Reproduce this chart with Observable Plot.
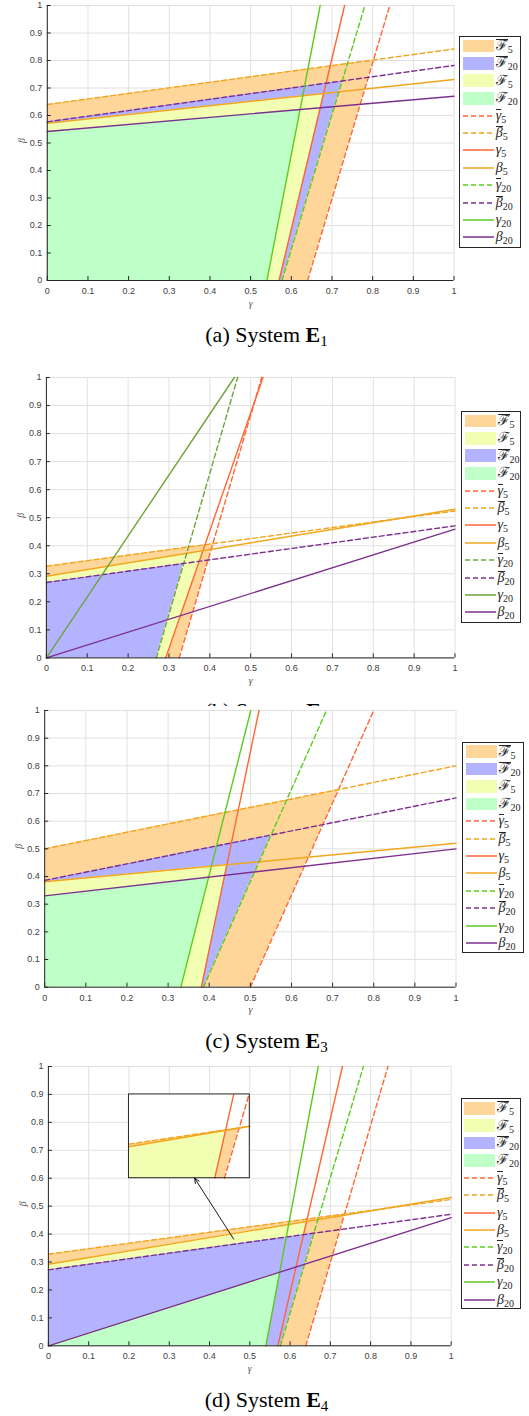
<!DOCTYPE html>
<html>
<head>
<meta charset="utf-8">
<script src="https://cdn.jsdelivr.net/npm/d3@7"></script>
<script src="https://cdn.jsdelivr.net/npm/@observablehq/plot@0.6"></script>
<style>
html,body{margin:0;padding:0;background:#fff;}
#root{position:relative;width:529px;height:1416px;overflow:hidden;background:#fff;}
.panel{position:absolute;left:0;}
.cap{position:absolute;left:0;overflow:visible;}
.legend{position:absolute;border:1px solid #262626;background:#fff;box-sizing:border-box;}
.row{position:absolute;left:2.4px;height:16px;display:flex;align-items:center;white-space:nowrap;}
.sw{width:31px;height:12.7px;flex:none;}
.swl{width:31px;height:4px;flex:none;display:block;}
.lab{margin-left:2px;font-family:"Liberation Serif","DejaVu Serif",serif;font-size:14px;color:#262626;line-height:1;}
.lab .s{display:inline-block;line-height:12px;border-top:1px solid transparent;}
.lab .m{font-style:italic;}
.lab .ov{border-top-color:#262626;}
.lab sub{font-style:normal;font-size:10px;vertical-align:-3px;line-height:0;}
</style>
</head>
<body>
<div id="root"></div>
<script>
// ---------- data ----------
const tickValues = [0, 0.1, 0.2, 0.3, 0.4, 0.5, 0.6, 0.7, 0.8, 0.9, 1];
const captionLetters = ["a", "b", "c", "d"];
const systemIndex = ["1", "2", "3", "4"];

// gamma-lines: [gamma at beta=0, gamma at beta=1]; beta-lines: [beta at gamma=0, beta at gamma=1]
const E1_gammaBar5  = [0.640, 0.842];
const E1_betaBar5   = [0.640, 0.842];
const E1_gamma5     = [0.570, 0.731];
const E1_beta5      = [0.572, 0.731];
const E1_gammaBar20 = [0.577, 0.781];
const E1_betaBar20  = [0.577, 0.782];
const E1_gamma20    = [0.540, 0.671];
const E1_beta20     = [0.542, 0.670];

const E2_gammaBar5  = [0.325, 0.527];
const E2_betaBar5   = [0.327, 0.524];
const E2_gamma5     = [0.292, 0.530];
const E2_beta5      = [0.291, 0.530];
const E2_gammaBar20 = [0.269, 0.468];
const E2_betaBar20  = [0.269, 0.471];
const E2_gamma20    = [0.000, 0.460];
const E2_beta20     = [0.000, 0.459];

const E3_gammaBar5  = [0.500, 0.800];
const E3_betaBar5   = [0.500, 0.800];
const E3_gamma5     = [0.381, 0.521];
const E3_beta5      = [0.381, 0.520];
const E3_gammaBar20 = [0.386, 0.685];
const E3_betaBar20  = [0.386, 0.684];
const E3_gamma20    = [0.331, 0.501];
const E3_beta20     = [0.330, 0.500];

const E4_gammaBar5  = [0.639, 0.843];
const E4_betaBar5   = [0.328, 0.524];
const E4_gamma5     = [0.5695, 0.730];
const E4_beta5      = [0.292, 0.531];
const E4_gammaBar20 = [0.576, 0.782];
const E4_betaBar20  = [0.272, 0.471];
const E4_gamma20    = [0.540, 0.670];
const E4_beta20     = [0.000, 0.459];

// inset of system E4 (in main gamma/beta coordinates)
const E4_insetGamma = [0.2, 0.5];
const E4_insetBeta  = [0.6, 0.9];
const E4_inset_betaBar5  = [[0.2, 0.722], [0.5, 0.786]];
const E4_inset_beta5     = [[0.2, 0.7125], [0.5, 0.786]];
const E4_inset_gamma5    = [[0.413, 0.6], [0.460, 0.9]];
const E4_inset_gammaBar5 = [[0.437, 0.6], [0.498, 0.9]];
const E4_arrowFrom = [0.460, 0.382];
const E4_arrowTo   = [0.363, 0.600];

// ---------- styles ----------
const C = {
  red: "#FF6633", orange: "#F2A51E", purple: "#7E2F8E",
  green: "#5CCB1E", greenB: "#6AA63A",
  Fbar5: "#FFD699", F5: "#F2FFB3", Fbar20: "#B3B3FF", F20: "#BFFFC8"
};

const systems = [
  {d: {gammaBar5: E1_gammaBar5, betaBar5: E1_betaBar5, gamma5: E1_gamma5, beta5: E1_beta5, gammaBar20: E1_gammaBar20, betaBar20: E1_betaBar20, gamma20: E1_gamma20, beta20: E1_beta20},
   order: ["Fbar5", "Fbar20", "F5", "F20"], green: C.green,
   frame: {L: 46.8, R: 453.5, T: 5, B: 280}, legend: {x: 459.3, y: 36, w: 61.4, h: 212.3}, capY: 341.7},
  {d: {gammaBar5: E2_gammaBar5, betaBar5: E2_betaBar5, gamma5: E2_gamma5, beta5: E2_beta5, gammaBar20: E2_gammaBar20, betaBar20: E2_betaBar20, gamma20: E2_gamma20, beta20: E2_beta20},
   order: ["Fbar5", "F5", "Fbar20", "F20"], green: C.greenB,
   frame: {L: 45.9, R: 454.5, T: 377.3, B: 657.7}, legend: {x: 461.2, y: 411, w: 60.1, h: 211.7}, capY: 718},
  {d: {gammaBar5: E3_gammaBar5, betaBar5: E3_betaBar5, gamma5: E3_gamma5, beta5: E3_beta5, gammaBar20: E3_gammaBar20, betaBar20: E3_betaBar20, gamma20: E3_gamma20, beta20: E3_beta20},
   order: ["Fbar5", "Fbar20", "F5", "F20"], green: C.green,
   frame: {L: 44.2, R: 455.5, T: 710, B: 986.7}, legend: {x: 462.2, y: 741.7, w: 61.4, h: 211.6}, capY: 1048, topPad: 4},
  {d: {gammaBar5: E4_gammaBar5, betaBar5: E4_betaBar5, gamma5: E4_gamma5, beta5: E4_beta5, gammaBar20: E4_gammaBar20, betaBar20: E4_betaBar20, gamma20: E4_gamma20, beta20: E4_beta20},
   order: ["Fbar5", "F5", "Fbar20", "F20"], green: C.green, inset: true,
   frame: {L: 47.9, R: 450.7, T: 1065.7, B: 1345}, legend: {x: 460.7, y: 1098.3, w: 60, h: 211}, capY: 1406.7}
];

const regionDefs = {Fbar5: ["betaBar5", "gammaBar5"], F5: ["beta5", "gamma5"], Fbar20: ["betaBar20", "gammaBar20"], F20: ["beta20", "gamma20"]};

// ---------- helpers ----------
const betaPts = v => [{x: 0, y: v[0]}, {x: 1, y: v[1]}];
const gammaPts = v => [{x: v[0], y: 0}, {x: v[1], y: 1}];

function region(bP, gP, x0, y0) {
  const m1 = (bP[1][1] - bP[0][1]) / (bP[1][0] - bP[0][0]);
  const c1 = bP[0][1] - m1 * bP[0][0];
  const m2 = (gP[1][0] - gP[0][0]) / (gP[1][1] - gP[0][1]);
  const c2 = gP[0][0] - m2 * gP[0][1];
  const xc = (m2 * c1 + c2) / (1 - m1 * m2), yc = m1 * xc + c1;
  const xg = m2 * y0 + c2;
  return [
    {x: x0, y1: y0, y2: m1 * x0 + c1},
    {x: xg, y1: y0, y2: m1 * xg + c1},
    {x: xc, y1: yc, y2: yc}
  ];
}
const asBetaPair = v => [[0, v[0]], [1, v[1]]];
const asGammaPair = v => [[v[0], 0], [v[1], 1]];
const toPts = p => p.map(([x, y]) => ({x, y}));

const lineSpecs = (green) => [
  {key: "gammaBar5", kind: "g", color: C.red, dash: true},
  {key: "betaBar5", kind: "b", color: C.orange, dash: true},
  {key: "gamma5", kind: "g", color: C.red, dash: false},
  {key: "beta5", kind: "b", color: C.orange, dash: false},
  {key: "gammaBar20", kind: "g", color: green, dash: true},
  {key: "betaBar20", kind: "b", color: C.purple, dash: true},
  {key: "gamma20", kind: "g", color: green, dash: false},
  {key: "beta20", kind: "b", color: C.purple, dash: false}
];

const DASH = "5,3";
const LW = 1.4;
const AX = "#262626";

const root = document.getElementById("root");

systems.forEach((s, i) => {
  const f = s.frame;
  const topPad = s.topPad ?? 10;
  const svgTop = f.T - topPad;
  const height = f.B - svgTop + 35;
  const fw = f.R - f.L, fh = f.B - f.T;
  const lines = lineSpecs(s.green);

  const marks = [
    Plot.gridX(tickValues, {stroke: "#E0E0E0", strokeOpacity: 1, strokeWidth: 1}),
    Plot.gridY(tickValues, {stroke: "#E0E0E0", strokeOpacity: 1, strokeWidth: 1})
  ];
  for (const r of s.order) {
    const [bk, gk] = regionDefs[r];
    marks.push(Plot.areaY(region(asBetaPair(s.d[bk]), asGammaPair(s.d[gk]), 0, 0),
      {x: "x", y1: "y1", y2: "y2", fill: C[r], curve: "linear"}));
  }
  for (const l of lines) {
    const pts = l.kind === "b" ? betaPts(s.d[l.key]) : gammaPts(s.d[l.key]);
    marks.push(Plot.line(pts, {x: "x", y: "y", stroke: l.color, strokeWidth: LW, strokeDasharray: l.dash ? DASH : null}));
  }
  if (s.inset) {
    const box = [{x1: E4_insetGamma[0], x2: E4_insetGamma[1], y1: E4_insetBeta[0], y2: E4_insetBeta[1]}];
    marks.push(Plot.rect(box, {x1: "x1", x2: "x2", y1: "y1", y2: "y2", fill: "#fff"}));
    marks.push(Plot.areaY(region(E4_inset_betaBar5, E4_inset_gammaBar5, E4_insetGamma[0], E4_insetBeta[0]), {x: "x", y1: "y1", y2: "y2", fill: C.Fbar5}));
    marks.push(Plot.areaY(region(E4_inset_beta5, E4_inset_gamma5, E4_insetGamma[0], E4_insetBeta[0]), {x: "x", y1: "y1", y2: "y2", fill: C.F5}));
    marks.push(Plot.line(toPts(E4_inset_gammaBar5), {x: "x", y: "y", stroke: C.red, strokeWidth: LW, strokeDasharray: DASH}));
    marks.push(Plot.line(toPts(E4_inset_betaBar5), {x: "x", y: "y", stroke: C.orange, strokeWidth: LW, strokeDasharray: DASH}));
    marks.push(Plot.line(toPts(E4_inset_gamma5), {x: "x", y: "y", stroke: C.red, strokeWidth: LW}));
    marks.push(Plot.line(toPts(E4_inset_beta5), {x: "x", y: "y", stroke: C.orange, strokeWidth: LW}));
    marks.push(Plot.rect(box, {x1: "x1", x2: "x2", y1: "y1", y2: "y2", fill: "none", stroke: AX, strokeWidth: 1}));
    marks.push(Plot.arrow([{a: E4_arrowFrom, b: E4_arrowTo}], {
      x1: d => d.a[0], y1: d => d.a[1], x2: d => d.b[0], y2: d => d.b[1],
      stroke: "#000", strokeWidth: 0.9, headLength: 9, headAngle: 50
    }));
  }
  marks.push(
    Plot.ruleY([0], {stroke: AX, strokeWidth: 1}),
    Plot.ruleX([0], {stroke: AX, strokeWidth: 1}),
    Plot.tickX(tickValues, {x: d => d, stroke: AX, insetTop: fh - 4}),
    Plot.tickY(tickValues, {y: d => d, stroke: AX, insetRight: fw - 4}),
    Plot.axisX(tickValues, {tickSize: 0, tickPadding: 7, tickFormat: d => String(d), label: null, fill: "#404040"}),
    Plot.axisY(tickValues, {tickSize: 0, tickPadding: 5, tickFormat: d => String(d), label: null, fill: "#404040"}),
    Plot.text(["γ"], {frameAnchor: "bottom", dy: 26, fontFamily: "Liberation Serif, serif", fontStyle: "italic", fontSize: 10, fill: "#555"}),
    Plot.text(["β"], {frameAnchor: "left", dx: -26, rotate: -90, fontFamily: "Liberation Serif, serif", fontStyle: "italic", fontSize: 10, fill: "#555"})
  );

  const svg = Plot.plot({
    width: 529, height,
    marginLeft: f.L, marginRight: 529 - f.R, marginTop: topPad, marginBottom: height - (f.B - svgTop),
    x: {domain: [0, 1], label: null},
    y: {domain: [0, 1], label: null},
    style: {background: "#fff", fontFamily: "Liberation Sans, Arial, sans-serif", fontSize: "9px", overflow: "visible"},
    marks
  });
  const wrap = document.createElement("div");
  wrap.className = "panel";
  wrap.style.top = svgTop + "px";
  wrap.appendChild(svg);
  root.appendChild(wrap);

  // legend
  const lg = document.createElement("div");
  lg.className = "legend";
  Object.assign(lg.style, {left: s.legend.x + "px", top: s.legend.y + "px", width: s.legend.w + "px", height: s.legend.h + "px"});
  const fillLabels = {Fbar5: [true, "5"], F5: [false, "5"], Fbar20: [true, "20"], F20: [false, "20"]};
  const items = [];
  for (const r of s.order) items.push({type: "fill", color: C[r], sym: "ℱ", bar: fillLabels[r][0], sub: fillLabels[r][1]});
  for (const l of lines) {
    const bar = l.key.includes("Bar");
    const sym = l.key.startsWith("gamma") ? "γ" : "β";
    const sub = l.key.endsWith("20") ? "20" : "5";
    items.push({type: "line", color: l.color, dash: l.dash, sym, bar, sub, math: true});
  }
  items.forEach((it, k) => {
    const row = document.createElement("div");
    row.className = "row";
    row.style.top = (10 + k * 17.4 - 1 - 8) + "px";
    let sw;
    if (it.type === "fill") {
      sw = `<div class="sw" style="background:${it.color}"></div>`;
    } else {
      sw = `<svg class="swl" width="31" height="4"><line x1="0" x2="31" y1="2" y2="2" stroke="${it.color}" stroke-width="1.5" ${it.dash ? 'stroke-dasharray="5,3"' : ''}/></svg>`;
    }
    const cls = "s" + (it.math ? " m" : "") + (it.bar ? " ov" : "");
    row.innerHTML = sw + `<span class="lab"><span class="${cls}">${it.sym}</span><sub>${it.sub}</sub></span>`;
    lg.appendChild(row);
  });
  root.appendChild(lg);

  // caption
  const cap = document.createElementNS("http://www.w3.org/2000/svg", "svg");
  cap.setAttribute("class", "cap");
  cap.setAttribute("width", "529");
  cap.setAttribute("height", "30");
  cap.style.top = (s.capY - 22) + "px";
  cap.innerHTML = `<text x="266.5" y="22" text-anchor="middle" font-family="Liberation Serif, Times New Roman, serif" font-size="22" fill="#000">(${captionLetters[i]}) System <tspan font-weight="bold">E</tspan><tspan font-size="15" dy="4">${systemIndex[i]}</tspan></text>`;
  root.appendChild(cap);
});
</script>
</body>
</html>
